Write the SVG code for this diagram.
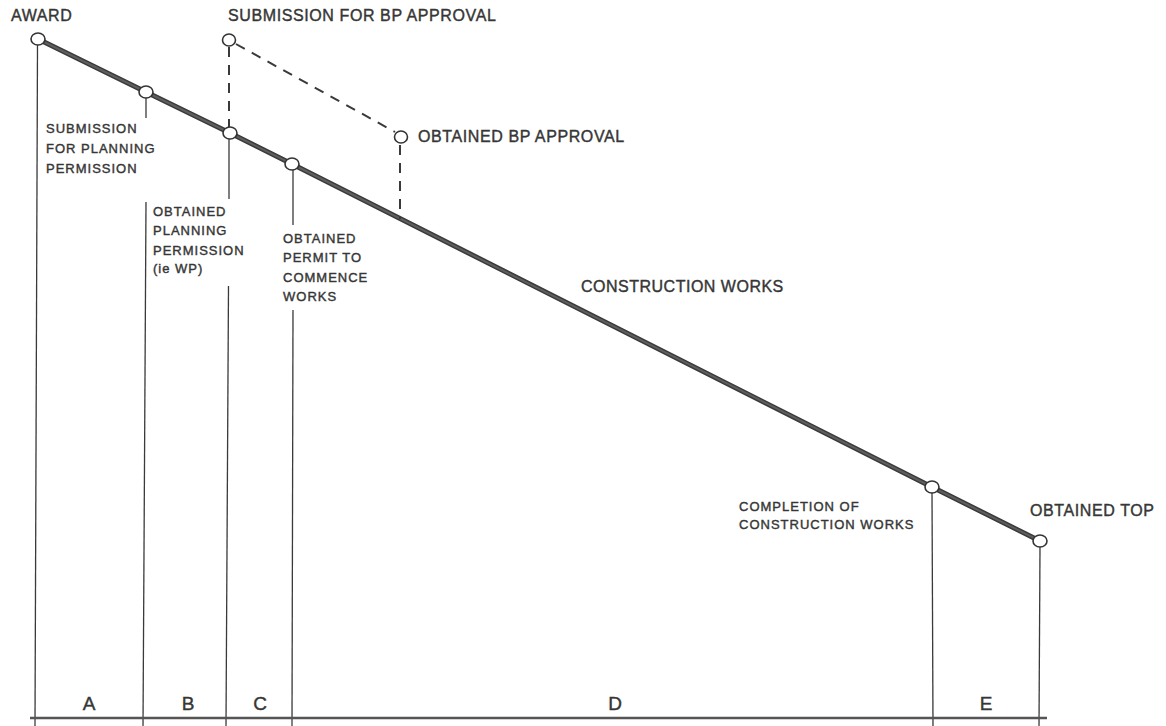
<svg xmlns="http://www.w3.org/2000/svg" width="1166" height="726" viewBox="0 0 1166 726">
<style>
text{font-family:"Liberation Sans",Arial,sans-serif;fill:#363636;stroke:#363636;stroke-width:0.4}
.big{font-size:16px;letter-spacing:0.6px}
.sm{font-size:13px;letter-spacing:1px}
.let{font-size:19px}
.thin{stroke:#3a3a3a;stroke-width:1.3;fill:none}
.dash{stroke:#3a3a3a;stroke-width:2;fill:none;stroke-dasharray:10 8}
.node{fill:#fff;stroke:#333;stroke-width:1.6}
</style>
<rect width="1166" height="726" fill="#fff"/>
<g id="connectors">
  <polyline points="38,39 146,92 230,133 292,164 932,487 1040,541" fill="none" stroke="#3a3a3a" stroke-width="5"/>
  <polyline points="38,39 146,92 230,133 292,164 932,487 1040,541" fill="none" stroke="#5e5e5e" stroke-width="2"/>
  <line class="dash" x1="229" y1="47" x2="229" y2="127"/>
  <line class="dash" x1="236" y1="44" x2="395" y2="132"/>
  <line class="dash" x1="400" y1="145" x2="400" y2="219"/>
  <line class="thin" x1="37.5" y1="45" x2="35" y2="726"/>
  <line class="thin" x1="146" y1="98" x2="146" y2="118"/>
  <line class="thin" x1="146" y1="202" x2="143" y2="726"/>
  <line class="thin" x1="229" y1="139" x2="229" y2="199"/>
  <line class="thin" x1="228.5" y1="286" x2="226" y2="726"/>
  <line class="thin" x1="293" y1="170" x2="293" y2="225"/>
  <line class="thin" x1="293" y1="310" x2="292" y2="726"/>
  <line class="thin" x1="932" y1="493" x2="933" y2="726"/>
  <line class="thin" x1="1040" y1="547" x2="1039" y2="726"/>
  <line x1="30" y1="718" x2="1047" y2="718" stroke="#555" stroke-width="2.5"/>
</g>
<g id="award"><ellipse class="node" cx="38" cy="39" rx="7" ry="6"/><text class="big" x="11" y="21">AWARD</text></g>
<g id="submission-planning"><ellipse class="node" cx="146" cy="92" rx="7" ry="6"/>
  <text class="sm" x="46" y="133">SUBMISSION</text><text class="sm" x="46" y="153">FOR PLANNING</text><text class="sm" x="46" y="173">PERMISSION</text></g>
<g id="obtained-planning"><ellipse class="node" cx="230" cy="133" rx="7" ry="6"/>
  <text class="sm" x="153" y="216">OBTAINED</text><text class="sm" x="153" y="235">PLANNING</text><text class="sm" x="153" y="255">PERMISSION</text><text class="sm" x="153" y="273">(ie WP)</text></g>
<g id="obtained-permit"><ellipse class="node" cx="292" cy="164" rx="7" ry="6"/>
  <text class="sm" x="283" y="243">OBTAINED</text><text class="sm" x="283" y="262">PERMIT TO</text><text class="sm" x="283" y="282">COMMENCE</text><text class="sm" x="283" y="301">WORKS</text></g>
<g id="submission-bp"><ellipse class="node" cx="229" cy="40" rx="6.5" ry="6"/><text class="big" x="228" y="21">SUBMISSION FOR BP APPROVAL</text></g>
<g id="obtained-bp"><ellipse class="node" cx="401" cy="137" rx="6.5" ry="6"/><text class="big" x="418" y="142">OBTAINED BP APPROVAL</text></g>
<g id="construction-works"><text class="big" x="581" y="292" style="letter-spacing:0.5px">CONSTRUCTION WORKS</text></g>
<g id="completion"><ellipse class="node" cx="932" cy="487" rx="7" ry="6"/>
  <text class="sm" x="739" y="511">COMPLETION OF</text><text class="sm" x="739" y="529">CONSTRUCTION WORKS</text></g>
<g id="obtained-top"><ellipse class="node" cx="1040" cy="541" rx="7" ry="6"/><text class="big" x="1030" y="516">OBTAINED TOP</text></g>
<g id="phases">
  <text class="let" x="89" y="710" text-anchor="middle">A</text>
  <text class="let" x="188" y="710" text-anchor="middle">B</text>
  <text class="let" x="260" y="710" text-anchor="middle">C</text>
  <text class="let" x="615" y="710" text-anchor="middle">D</text>
  <text class="let" x="986" y="710" text-anchor="middle">E</text>
</g>
</svg>
